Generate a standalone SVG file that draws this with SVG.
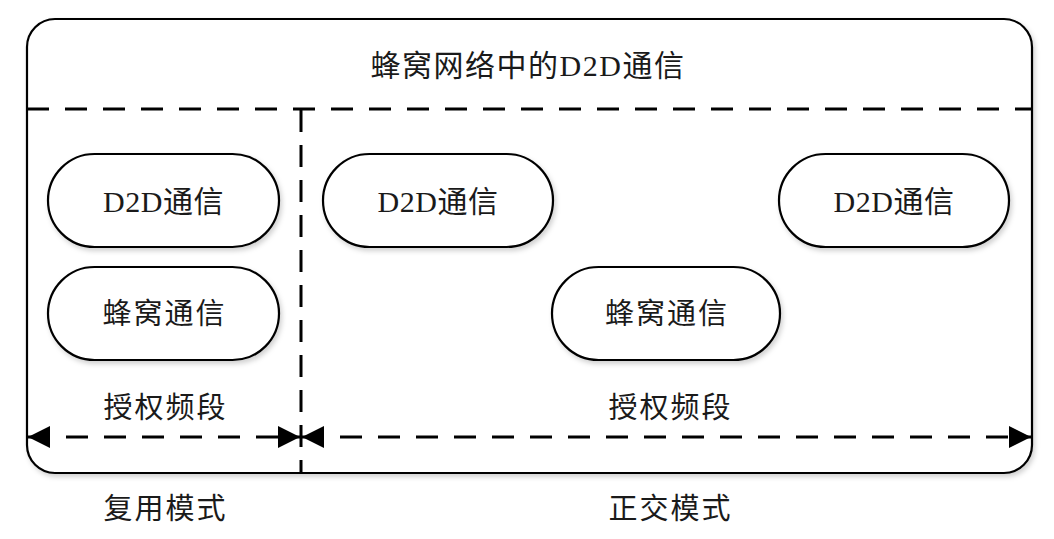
<svg xmlns="http://www.w3.org/2000/svg" width="1054" height="539" viewBox="0 0 1054 539">
<style>
.box{fill:#fff;stroke:#000;stroke-width:2.2}
.node{fill:#fff;stroke:#000;stroke-width:2.2}
.dash{fill:none;stroke:#000;stroke-width:3;stroke-dasharray:22 16}
.t{font-family:"Liberation Serif","Noto Sans CJK SC",serif;font-size:29px;fill:#1a1a1a;text-anchor:middle;dominant-baseline:central}
.d{font-size:30px;letter-spacing:0.5px}
.lbl{letter-spacing:2px}
</style>
<defs>
<filter id="sh" x="-10%" y="-10%" width="120%" height="130%">
<feDropShadow dx="2" dy="3" stdDeviation="2.5" flood-color="#000" flood-opacity="0.18"/>
</filter>
<marker id="ah" viewBox="0 0 22 22" refX="22" refY="11" markerWidth="22" markerHeight="22" markerUnits="userSpaceOnUse" orient="auto-start-reverse">
<path d="M0,0 L22,11 L0,22 Z" fill="#000"/>
</marker>
</defs>
<g id="frame">
<rect class="box" x="27" y="19" width="1005" height="454" rx="28" ry="28" filter="url(#sh)"/>
<text class="t" x="528" y="65" style="font-size:30px;letter-spacing:1.5px">蜂窝网络中的D2D通信</text>
</g>
<g id="connectors">
<line class="dash" x1="27" y1="109" x2="1032" y2="109"/>
<line class="dash" x1="301" y1="110" x2="301" y2="473" style="stroke-dasharray:22 13"/>
<line class="dash" x1="28" y1="437" x2="300" y2="437" marker-start="url(#ah)" marker-end="url(#ah)"/>
<line class="dash" x1="302" y1="437" x2="1031" y2="437" marker-start="url(#ah)" marker-end="url(#ah)"/>
</g>
<g id="node-left-d2d">
<rect class="node" x="48" y="154" width="231" height="93" rx="46.5" ry="46.5" filter="url(#sh)"/>
<text class="t d" x="163.5" y="201">D2D通信</text>
</g>
<g id="node-left-cell">
<rect class="node" x="48" y="267" width="231" height="93" rx="46.5" ry="46.5" filter="url(#sh)"/>
<text class="t lbl" x="164.5" y="314">蜂窝通信</text>
</g>
<g id="node-mid-d2d">
<rect class="node" x="323" y="154" width="230" height="93" rx="46.5" ry="46.5" filter="url(#sh)"/>
<text class="t d" x="438" y="201">D2D通信</text>
</g>
<g id="node-right-d2d">
<rect class="node" x="779" y="154" width="230" height="93" rx="46.5" ry="46.5" filter="url(#sh)"/>
<text class="t d" x="894" y="201">D2D通信</text>
</g>
<g id="node-mid-cell">
<rect class="node" x="552" y="267" width="228" height="93" rx="46.5" ry="46.5" filter="url(#sh)"/>
<text class="t lbl" x="667" y="314">蜂窝通信</text>
</g>
<g id="labels">
<text class="t lbl" x="165.5" y="408">授权频段</text>
<text class="t lbl" x="670.5" y="408">授权频段</text>
<text class="t lbl" x="165.5" y="509">复用模式</text>
<text class="t lbl" x="670.5" y="509">正交模式</text>
</g>
</svg>
